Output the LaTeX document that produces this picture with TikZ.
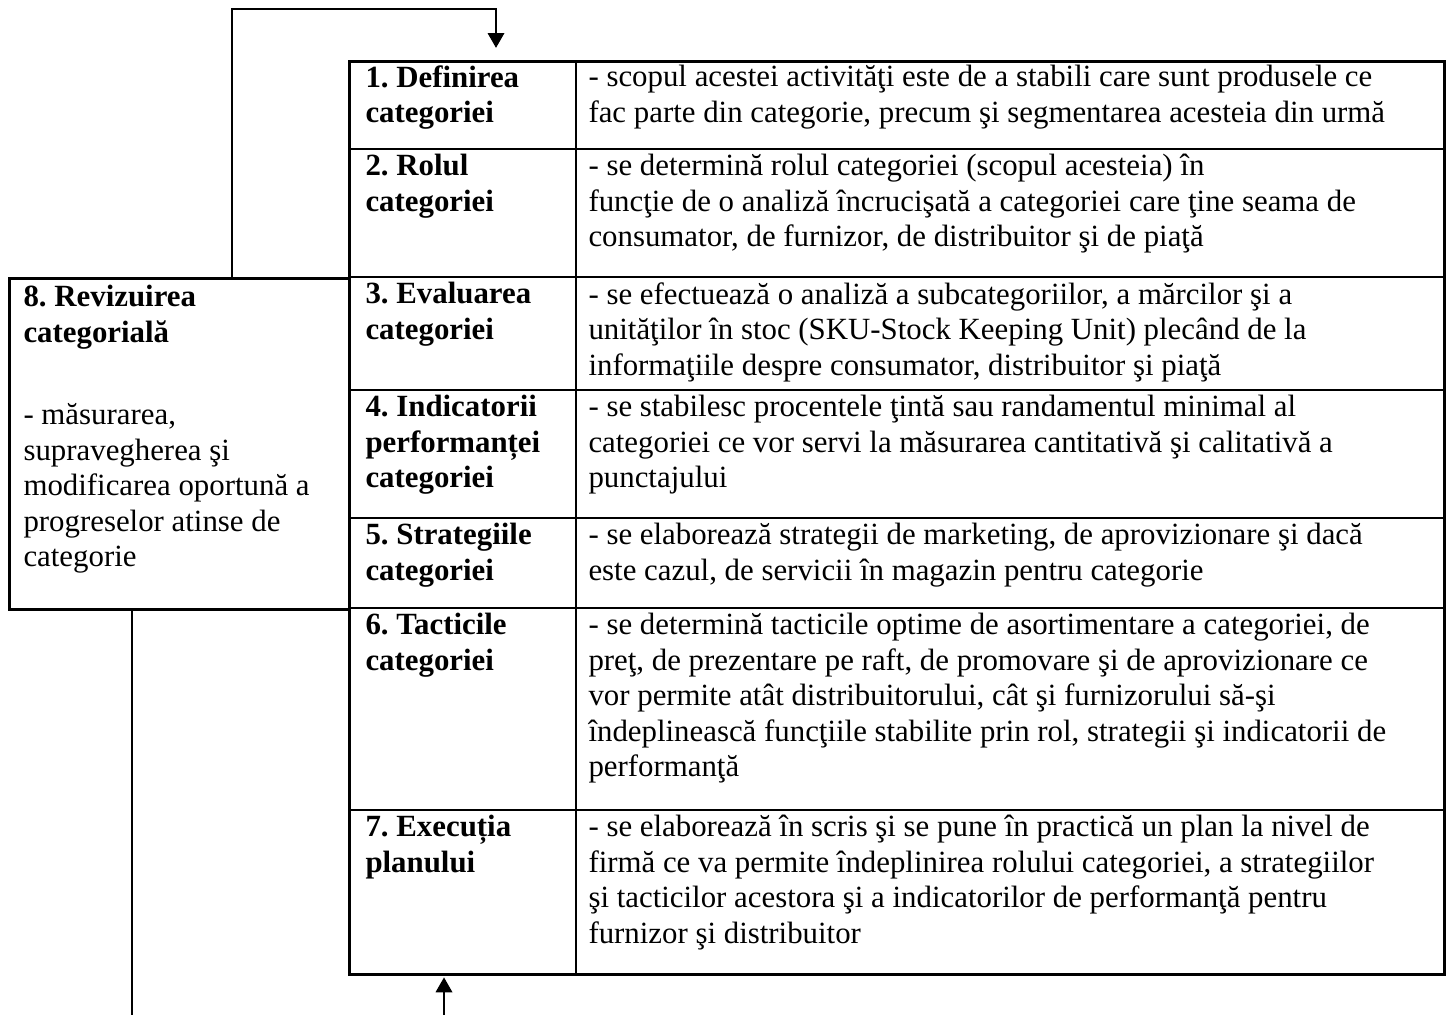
\documentclass[tikz,border=0pt]{standalone}
\usepackage{fontspec}
\setmainfont{Liberation Serif}
\usetikzlibrary{arrows.meta}
\frenchspacing

\begin{document}
\begin{tikzpicture}[x=0.389pt, y=-0.389pt,
    every node/.style={inner sep=0pt, font=\fontsize{12}{13.8}\selectfont},
    box/.style={draw, line width=1.1pt, anchor=north west},
    grid/.style={line width=1.1pt},
    title/.style={anchor=north west, align=left, font=\fontsize{12}{13.8}\selectfont\bfseries, execute at begin node=\strut},
    desc/.style={anchor=north west, align=left, execute at begin node=\strut},
    link/.style={line width=0.8pt},
    tip/.style={-{Triangle[length=5.8pt, width=6.4pt]}}]
        \useasboundingbox (0,0) rectangle (1449,1015);
        % frames
        \node[box, minimum width={1095*0.389pt}, minimum height={913*0.389pt}] (Tabel) at (348,60) {};
        \node[box, minimum width={340*0.389pt}, minimum height={331*0.389pt}] (Revizuire) at (8,277) {};
        \draw[grid] (576,60) -- (576,973);
        \foreach \y in {149,277,390,518,608,810}
            \draw[grid] (Tabel.west |- 0,\y) -- (Tabel.east |- 0,\y);
        % left column
        \node[title] (Definirea) at (365,65) {1. Definirea\\categoriei};
        \node[title] (Rolul) at (365,154) {2. Rolul\\categoriei};
        \node[title] (Evaluarea) at (365,282) {3. Evaluarea\\categoriei};
        \node[title] (Indicatorii) at (365,395) {4. Indicatorii\\performanței\\categoriei};
        \node[title] (Strategiile) at (365,523) {5. Strategiile\\categoriei};
        \node[title] (Tacticile) at (365,613) {6. Tacticile\\categoriei};
        \node[title] (Executia) at (365,815) {7. Execuția\\planului};
        % right column
        \node[desc] (DefText) at (588,65) {
            - scopul acestei activităţi este de a stabili care sunt produsele ce\\
            fac parte din categorie, precum şi segmentarea acesteia din urmă
        };
        \node[desc] (RolText) at (588,154) {
            - se determină rolul categoriei (scopul acesteia) în\\
            funcţie de o analiză încrucişată a categoriei care ţine seama de\\
            consumator, de furnizor, de distribuitor şi de piaţă
        };
        \node[desc] (EvalText) at (588,282) {
            - se efectuează o analiză a subcategoriilor, a mărcilor şi a\\
            unităţilor în stoc (SKU-Stock Keeping Unit) plecând de la\\
            informaţiile despre consumator, distribuitor şi piaţă
        };
        \node[desc] (IndText) at (588,395) {
            - se stabilesc procentele ţintă sau randamentul minimal al\\
            categoriei ce vor servi la măsurarea cantitativă şi calitativă a\\
            punctajului
        };
        \node[desc] (StratText) at (588,523) {
            - se elaborează strategii de marketing, de aprovizionare şi dacă\\
            este cazul, de servicii în magazin pentru categorie
        };
        \node[desc] (TactText) at (588,613) {
            - se determină tacticile optime de asortimentare a categoriei, de\\
            preţ, de prezentare pe raft, de promovare şi de aprovizionare ce\\
            vor permite atât distribuitorului, cât şi furnizorului să-şi\\
            îndeplinească funcţiile stabilite prin rol, strategii şi indicatorii de\\
            performanţă
        };
        \node[desc] (ExecText) at (588,815) {
            - se elaborează în scris şi se pune în practică un plan la nivel de\\
            firmă ce va permite îndeplinirea rolului categoriei, a strategiilor\\
            şi tacticilor acestora şi a indicatorilor de performanţă pentru\\
            furnizor şi distribuitor
        };
        % review box
        \node[title] (RevTitlu) at (23,285) {8. Revizuirea\\categorială};
        \node[desc] (RevText) at (23,403) {
            - măsurarea,\\
            supravegherea şi\\
            modificarea oportună a\\
            progreselor atinse de\\
            categorie
        };
        % feedback links
        \coordinate (SusSt) at (232,9);
        \coordinate (SusDr) at (496,9);
        \coordinate (JosSt) at (132,1015);
        \coordinate (JosDr) at (444,1015);
        \draw[link, tip, shorten >=4.7pt] (Revizuire.north -| SusSt) -- (SusSt) -- (SusDr) -- (SusDr |- Tabel.north);
        \draw[link] (Revizuire.south -| JosSt) -- (JosSt);
        \draw[link, tip, shorten >=0.6pt] (JosDr) -- (JosDr |- Tabel.south);
\end{tikzpicture}
\end{document}
